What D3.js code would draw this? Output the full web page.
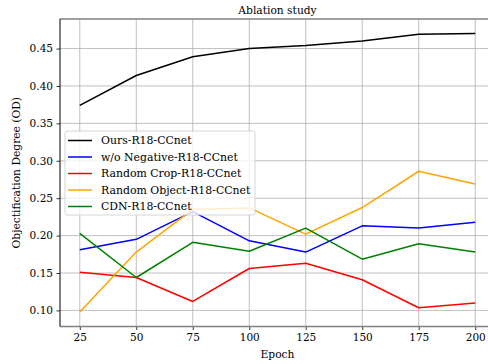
<!DOCTYPE html>
<html>
<head>
<meta charset="utf-8">
<script src="https://cdn.jsdelivr.net/npm/d3@7"></script>
<style>
  body { margin: 0; background: #fff; overflow: hidden; }
  text { font-family: "DejaVu Serif", serif; fill: #000; }
</style>
</head>
<body>
<div id="chart"></div>
<script>
// data
var epochs = [25, 50, 75, 100, 125, 150, 175, 200];
var seriesNames = ["Ours-R18-CCnet", "w/o Negative-R18-CCnet", "Random Crop-R18-CCnet", "Random Object-R18-CCnet", "CDN-R18-CCnet"];
var seriesColors = ["#000000", "#0000ff", "#ff0000", "#ffa500", "#008000"];
var oursVals = [0.374, 0.414, 0.439, 0.450, 0.454, 0.460, 0.469, 0.470];
var noNegVals = [0.181, 0.195, 0.232, 0.193, 0.178, 0.213, 0.210, 0.218];
var cropVals = [0.151, 0.144, 0.112, 0.156, 0.163, 0.141, 0.1035, 0.110];
var objectVals = [0.098, 0.178, 0.235, 0.237, 0.202, 0.2375, 0.286, 0.269];
var cdnVals = [0.203, 0.144, 0.191, 0.179, 0.210, 0.1685, 0.189, 0.178];
var yTicks = [0.10, 0.15, 0.20, 0.25, 0.30, 0.35, 0.40, 0.45];

var allSeries = [oursVals, noNegVals, cropVals, objectVals, cdnVals];

var svgWidth = 488;
var svgHeight = 364;
var margin = { top: 19, left: 60, bottom: 37 };
var plotRight = 495; // axes run past the cropped edge
var width = plotRight - margin.left;
var height = svgHeight - margin.top - margin.bottom - 0.5;

var svg = d3.select("#chart")
  .append("svg")
  .attr("width", svgWidth)
  .attr("height", svgHeight);

var g = svg.append("g")
  .attr("transform", `translate(${margin.left}, ${margin.top})`);

var xScale = d3.scaleLinear()
  .domain([16.25, 208.75])
  .range([0, width]);

var yScale = d3.scaleLinear()
  .domain([0.0785, 0.4895])
  .range([height, 0]);

// grid
g.append("g").selectAll("line.vgrid")
  .data(epochs).enter().append("line")
  .attr("x1", d => xScale(d)).attr("x2", d => xScale(d))
  .attr("y1", 0).attr("y2", height)
  .attr("stroke", "#b0b0b0").attr("stroke-width", 0.8);

g.append("g").selectAll("line.hgrid")
  .data(yTicks).enter().append("line")
  .attr("x1", 0).attr("x2", width)
  .attr("y1", d => yScale(d)).attr("y2", d => yScale(d))
  .attr("stroke", "#b0b0b0").attr("stroke-width", 0.8);

// lines
var line = d3.line()
  .x((d, i) => xScale(epochs[i]))
  .y(d => yScale(d));

allSeries.forEach(function(vals, i) {
  g.append("path")
    .datum(vals)
    .attr("fill", "none")
    .attr("stroke", seriesColors[i])
    .attr("stroke-width", 1.5)
    .attr("stroke-linejoin", "round")
    .attr("d", line);
});

// axes
var xAxis = g.append("g")
  .attr("transform", `translate(0, ${height})`)
  .call(d3.axisBottom(xScale).tickValues(epochs).tickSize(3.5).tickPadding(3.5).tickFormat(d3.format("d")));

var yAxis = g.append("g")
  .call(d3.axisLeft(yScale).tickValues(yTicks).tickSize(3.5).tickPadding(3.5).tickFormat(d3.format(".2f")));

[xAxis, yAxis].forEach(function(ax) {
  ax.select(".domain").remove();
  ax.selectAll("text").style("font-family", "DejaVu Serif").style("font-size", "10.5px").attr("fill", "#000");
  ax.selectAll("line").attr("stroke", "#000").attr("stroke-width", 0.8);
});

// spines
g.append("line").attr("x1", 0).attr("x2", width).attr("y1", 0).attr("y2", 0)
  .attr("stroke", "#808080").attr("stroke-width", 1.3);
g.append("line").attr("x1", 0).attr("x2", width).attr("y1", height).attr("y2", height)
  .attr("stroke", "#808080").attr("stroke-width", 1.3);
g.append("line").attr("x1", 0).attr("x2", 0).attr("y1", 0).attr("y2", height)
  .attr("stroke", "#000").attr("stroke-width", 1);

// title and labels
svg.append("text")
  .attr("x", margin.left + width / 2)
  .attr("y", 14)
  .attr("text-anchor", "middle")
  .style("font-size", "10.7px")
  .text("Ablation study");

svg.append("text")
  .attr("x", margin.left + width / 2)
  .attr("y", 358)
  .attr("text-anchor", "middle")
  .style("font-size", "10.7px")
  .text("Epoch");

svg.append("text")
  .attr("transform", `translate(20, ${margin.top + height / 2}) rotate(-90)`)
  .attr("text-anchor", "middle")
  .style("font-size", "10.7px")
  .text("Objectification Degree (OD)");

// legend
var legend = g.append("g")
  .attr("transform", "translate(5, 112)");

legend.append("rect")
  .attr("width", 190)
  .attr("height", 84)
  .attr("rx", 2.5)
  .attr("fill", "#fff")
  .attr("fill-opacity", 0.8)
  .attr("stroke", "#cccccc")
  .attr("stroke-width", 0.8);

seriesNames.forEach(function(name, i) {
  var yPos = 9.5 + i * 16.5;
  legend.append("line")
    .attr("x1", 3).attr("x2", 27)
    .attr("y1", yPos).attr("y2", yPos)
    .attr("stroke", seriesColors[i])
    .attr("stroke-width", 1.5);
  legend.append("text")
    .attr("x", 36)
    .attr("y", yPos + 3.8)
    .style("font-size", "10.9px")
    .text(name);
});
</script>
</body>
</html>
